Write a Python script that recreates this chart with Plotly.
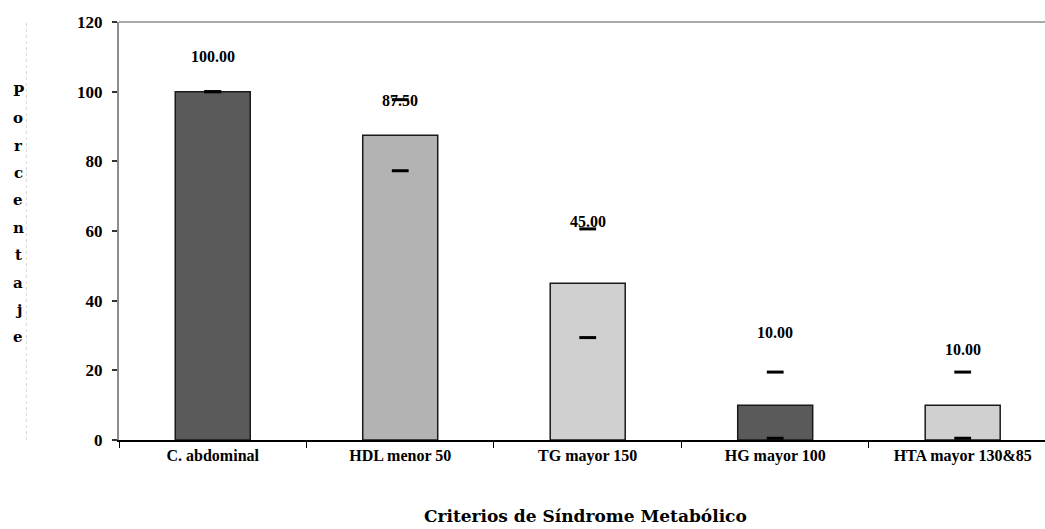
import plotly.graph_objects as go

# Criterios de síndrome metabólico: porcentaje de casos por criterio
categorias = ["C. abdominal", "HDL menor 50", "TG mayor 150", "HG mayor 100", "HTA mayor 130&85"]
porcentaje = [100.00, 87.50, 45.00, 10.00, 10.00]
error = [0.0, 10.2, 15.6, 9.5, 9.5]
colores = ["#5a5a5a", "#b3b3b3", "#d0d0d0", "#5a5a5a", "#d0d0d0"]
# altura (en % del eje) donde se coloca cada etiqueta de valor
altura_etiqueta = [110.0, 97.6, 62.6, 31.0, 26.0]

SERIF = "Liberation Serif, Times New Roman, serif"
SERIF_ANCHA = "DejaVu Serif, serif"

fig = go.Figure()

fig.add_trace(go.Bar(
    x=categorias, y=porcentaje, width=0.4,
    marker=dict(color=colores, line=dict(color="#1a1a1a", width=1.5)),
    showlegend=False, hoverinfo="x+y",
))

# extremos de la barra de error: sólo los topes, sin trazo vertical
sup = [v + e for v, e in zip(porcentaje, error)]
inf = [v - e for v, e in zip(porcentaje, error)]
fig.add_trace(go.Scatter(
    x=categorias + categorias, y=sup + inf, mode="markers",
    marker=dict(symbol="line-ew", size=12, line=dict(color="black", width=3)),
    showlegend=False, hoverinfo="skip",
))

for c, v, h in zip(categorias, porcentaje, altura_etiqueta):
    fig.add_annotation(x=c, y=h, text=f"<b>{v:.2f}</b>", showarrow=False,
                       font=dict(family=SERIF, size=16, color="black"))

# título del eje Y con letras apiladas, una por línea
titulo_y = "Porcentaje"
for i, ch in enumerate(titulo_y):
    fig.add_annotation(xref="paper", yref="paper", x=-0.1087, y=0.835 - i * 0.0655,
                       xanchor="center", yanchor="middle",
                       text=f"<b>{ch}</b>", showarrow=False,
                       font=dict(family=SERIF_ANCHA, size=15, color="black"))

fig.add_annotation(xref="paper", yref="paper", x=0.504, y=-0.182, yanchor="middle",
                   text="<b>Criterios de Síndrome Metabólico</b>", showarrow=False,
                   font=dict(family=SERIF_ANCHA, size=17, color="black"))

# borde superior del área de trazado
fig.add_shape(type="line", xref="paper", yref="paper", x0=0, x1=1, y0=1, y1=1,
              line=dict(color="#8c8c8c", width=1.5))
# borde punteado del área del gráfico a la izquierda
fig.add_shape(type="line", xref="paper", yref="paper", x0=-0.1, x1=-0.1, y0=0, y1=1,
              line=dict(color="#d8d8d8", width=1, dash="dot"))

fig.update_layout(
    width=1045, height=529,
    margin=dict(l=119, r=0, t=22, b=89),
    paper_bgcolor="white", plot_bgcolor="white",
    bargap=0.6,
    font=dict(family=SERIF, color="black"),
)
fig.update_xaxes(
    type="category", range=[-0.5, 4.439],
    showline=True, linecolor="black", linewidth=2,
    ticks="outside", tickson="boundaries", ticklen=6, tickcolor="black", tickwidth=1,
    tickfont=dict(family=SERIF, size=16, color="black", weight="bold"),
    showgrid=False, zeroline=False,
)
fig.update_yaxes(
    range=[0, 120], tickvals=[0, 20, 40, 60, 80, 100, 120],
    showline=True, linecolor="#8c8c8c", linewidth=2,
    ticks="outside", ticklen=5, tickcolor="#333333", tickwidth=1.5,
    ticklabelstandoff=6,
    tickfont=dict(family=SERIF, size=17, color="black", weight="bold"),
    showgrid=False, zeroline=False,
)

fig.write_html("out.html")
